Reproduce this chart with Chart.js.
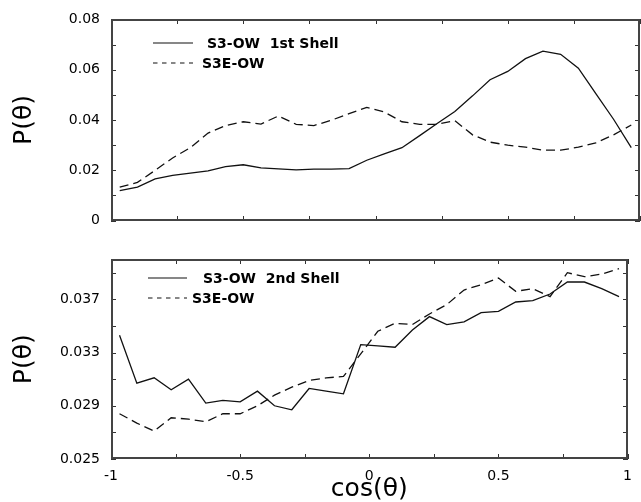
<!DOCTYPE html>
<html><head><meta charset="utf-8">
<script src="https://cdn.jsdelivr.net/npm/chart.js@4.4.1/dist/chart.umd.min.js"></script>
<style>
html,body{margin:0;padding:0;background:#fff;width:641px;height:502px;overflow:hidden;position:relative}
canvas{position:absolute;left:0}
#c1{top:0;width:641px;height:240px}
#c2{top:240px;width:641px;height:262px}
</style></head><body>
<canvas id="c1" width="641" height="240"></canvas>
<canvas id="c2" width="641" height="262"></canvas>
<script>
// cos(theta) bin centres
const binCenters = [-0.967,-0.9,-0.833,-0.767,-0.7,-0.633,-0.567,-0.5,-0.433,-0.367,-0.3,-0.233,-0.167,-0.1,-0.033,
                    0.033,0.1,0.167,0.233,0.3,0.367,0.433,0.5,0.567,0.633,0.7,0.767,0.833,0.9,0.967];
// Top panel: 1st shell
const shell1S3OW  = [0.0119,0.0133,0.0166,0.0180,0.0189,0.0198,0.0215,0.0222,0.0210,0.0206,0.0202,0.0205,0.0205,0.0207,0.0240,
                     0.0265,0.0290,0.0338,0.0386,0.0434,0.0496,0.0560,0.0593,0.0644,0.0674,0.0661,0.0606,0.0505,0.0403,0.0290];
const shell1S3EOW = [0.0133,0.0152,0.0200,0.0249,0.0290,0.0348,0.0378,0.0393,0.0384,0.0416,0.0383,0.0378,0.0399,0.0425,0.0450,
                     0.0432,0.0393,0.0383,0.0383,0.0397,0.0341,0.0312,0.0300,0.0292,0.0280,0.0280,0.0292,0.0309,0.0341,0.0380];
// Bottom panel: 2nd shell
const shell2S3OW  = [0.0343,0.0307,0.0311,0.0302,0.0310,0.0292,0.0294,0.0293,0.0301,0.0290,0.0287,0.0303,0.0301,0.0299,0.0336,
                     0.0335,0.0334,0.0347,0.0357,0.0351,0.0353,0.0360,0.0361,0.0368,0.0369,0.0374,0.0383,0.0383,0.0378,0.0372];
const shell2S3EOW = [0.0284,0.0277,0.0271,0.0281,0.0280,0.0278,0.0284,0.0284,0.0290,0.0298,0.0304,0.0309,0.0311,0.0312,0.0329,
                     0.0346,0.0352,0.0351,0.0359,0.0366,0.0377,0.0381,0.0386,0.0376,0.0378,0.0372,0.0390,0.0387,0.0389,0.0393];

// Ticks and labels
const xTicks = [-1,-0.75,-0.5,-0.25,0,0.25,0.5,0.75,1];
const xTickLabels = {'-1':'-1','-0.5':'-0.5','0':'0','0.5':'0.5','1':'1'};
const topYTicks = [0,0.01,0.02,0.03,0.04,0.05,0.06,0.07,0.08];
const topYTickLabels = ['0','0.02','0.04','0.06','0.08'];
const botYTicks = [0.025,0.027,0.029,0.031,0.033,0.035,0.037,0.039];
const botYTickLabels = ['0.025','0.029','0.033','0.037'];
const topLegend = ['S3-OW  1st Shell','S3E-OW'];
const botLegend = ['S3-OW  2nd Shell','S3E-OW'];
const xTitle = 'cos(\u03B8)';
const yTitle = 'P(\u03B8)';

Chart.defaults.color = '#000';
Chart.defaults.font.family = "'DejaVu Sans', sans-serif";

function pts(vals){ return binCenters.map((c,i)=>({x:c,y:vals[i]})); }
function labelFrom(list){
  return function(v){
    for (const s of list){ if (Math.abs(parseFloat(s)-v) < 1e-9) return s; }
    return '';
  };
}
function xLabel(v){
  for (const k in xTickLabels){ if (Math.abs(parseFloat(k)-v) < 1e-9) return xTickLabels[k]; }
  return '';
}

const frameTicks = {
  id:'frameTicks',
  afterDraw(chart){
    const {ctx, chartArea:a, scales:{x,y}} = chart;
    const L = 5;
    const l = Math.round(a.left), r = Math.round(a.right) - 1;
    const t = Math.round(a.top), b = Math.round(a.bottom) - 1;
    ctx.save();
    ctx.fillStyle = '#333';
    x.ticks.forEach(tk=>{
      const px = Math.round(x.getPixelForValue(tk.value));
      ctx.fillRect(px, b - L + 1, 1, L);
      ctx.fillRect(px, t, 1, L);
    });
    y.ticks.forEach(tk=>{
      const py = Math.round(y.getPixelForValue(tk.value));
      ctx.fillRect(l, py, L, 1);
      ctx.fillRect(r - L + 1, py, L, 1);
    });
    ctx.fillStyle = '#444';
    ctx.fillRect(l, t, r - l + 1, 2);
    ctx.fillRect(l, b - 1, r - l + 1, 2);
    ctx.fillRect(l, t, 2, b - t + 1);
    ctx.fillRect(r - 1, t, 2, b - t + 1);
    ctx.restore();
  }
};

const customLegend = {
  id:'customLegend',
  afterDraw(chart, args, opts){
    const ctx = chart.ctx;
    ctx.save();
    ctx.font = 'bold 14px "DejaVu Sans", sans-serif';
    ctx.fillStyle = '#000';
    ctx.textBaseline = 'middle';
    opts.items.forEach(it=>{
      ctx.beginPath();
      ctx.strokeStyle = '#111';
      ctx.lineWidth = 1.2;
      ctx.setLineDash(it.dash);
      ctx.moveTo(it.x0, it.y); ctx.lineTo(it.x1, it.y);
      ctx.stroke();
      ctx.setLineDash([]);
      ctx.fillText(it.text, it.tx, it.y + 1);
    });
    ctx.restore();
  }
};

function makeChart(id, dsA, dsB, yMin, yMax, yTickVals, yLabels, isBottom, legendItems){
  return new Chart(document.getElementById(id), {
    type:'line',
    data:{datasets:[
      {data:pts(dsA), borderColor:'#111', borderWidth:1.3, pointRadius:0, tension:0, fill:false},
      {data:pts(dsB), borderColor:'#111', borderWidth:1.3, borderDash:[9,5], pointRadius:0, tension:0, fill:false}
    ]},
    options:{
      responsive:false, animation:false, devicePixelRatio:1,
      layout:{padding:{top:isBottom?12:18, right:1, left:0, bottom:0}},
      plugins:{legend:{display:false}, tooltip:{enabled:false}, customLegend:{items:legendItems}},
      scales:{
        x:{type:'linear', min:-1, max:1,
           grid:{display:false, drawTicks:false}, border:{display:false},
           afterBuildTicks(s){ s.ticks = xTicks.map(v=>({value:v})); },
           afterFit(s){ s.height = isBottom ? 43 : 15; },
           ticks:{display:isBottom, autoSkip:false, maxRotation:0, padding:9, font:{size:14}, callback:xLabel},
           title:{display:isBottom, text:xTitle, font:{size:25, lineHeight:1}, padding:{top:0,bottom:0}}
        },
        y:{type:'linear', min:yMin, max:yMax,
           grid:{display:false, drawTicks:false}, border:{display:false},
           afterBuildTicks(s){ s.ticks = yTickVals.map(v=>({value:v})); },
           afterFit(s){ s.width = 111; },
           ticks:{autoSkip:false, padding:11, font:{size:14}, callback:labelFrom(yLabels)},
           title:{display:true, text:yTitle, font:{size:25}, padding:{top:9,bottom:0}}
        }
      }
    },
    plugins:[frameTicks, customLegend]
  });
}

makeChart('c1', shell1S3OW, shell1S3EOW, 0, 0.08, topYTicks, topYTickLabels, false, [
  {x0:153, x1:193, y:43, dash:[], text:topLegend[0], tx:207},
  {x0:153, x1:193, y:63, dash:[4.5,4.5], text:topLegend[1], tx:202}
]);
makeChart('c2', shell2S3OW, shell2S3EOW, 0.025, 0.040, botYTicks, botYTickLabels, true, [
  {x0:148, x1:187, y:38, dash:[], text:botLegend[0], tx:203},
  {x0:148, x1:187, y:58, dash:[4.5,4.5], text:botLegend[1], tx:192}
]);
</script>
</body></html>
